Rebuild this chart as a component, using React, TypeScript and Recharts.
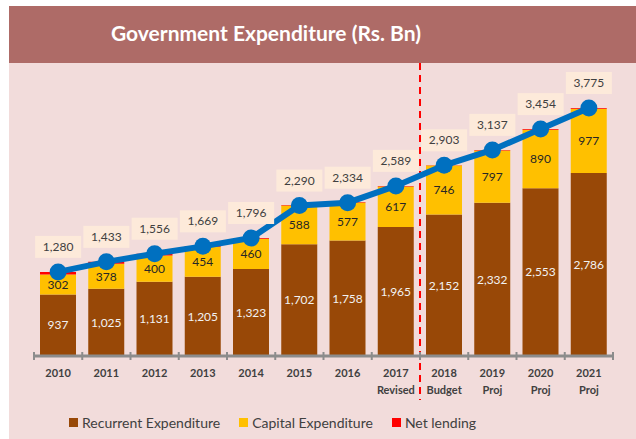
import { ComposedChart, Bar, Line, XAxis, YAxis, LabelList, ReferenceLine } from "recharts";

const years = ["2010", "2011", "2012", "2013", "2014", "2015", "2016", "2017", "2018", "2019", "2020", "2021"];
const subLabels = ["", "", "", "", "", "", "", "Revised", "Budget", "Proj", "Proj", "Proj"];
const recurrent = [937, 1025, 1131, 1205, 1323, 1702, 1758, 1965, 2152, 2332, 2553, 2786];
const capital = [302, 378, 400, 454, 460, 588, 577, 617, 746, 797, 890, 977];
const netLending = [41, 30, 25, 10, 13, 10, 10, 7, 5, 8, 11, 12];
const totals = [1280, 1433, 1556, 1669, 1796, 2290, 2334, 2589, 2903, 3137, 3454, 3775];

const data = years.map((y, i) => ({
  year: y,
  sub: subLabels[i],
  recurrent: recurrent[i],
  capital: capital[i],
  net: netLending[i],
  total: totals[i],
}));

const legendItems = [
  { name: "Recurrent Expenditure", color: "#984807" },
  { name: "Capital Expenditure", color: "#FFC000" },
  { name: "Net lending", color: "#FF0000" },
];

const FONT = "Lato, 'Noto Sans', sans-serif";
const W = 627;
const H = 376;
const X_AXIS_H = 40;
const M = { top: 0, right: 23, left: 25, bottom: 43 };
const halfBand = (W - M.left - M.right) / years.length / 2;

const fmt = (v: number) => v.toLocaleString("en-US");

function YearTick(props: any) {
  const { x, y, payload, index } = props;
  const sub = subLabels[index] || "";
  const hb = payload?.offset || halfBand;
  return (
    <g>
      <line x1={x - hb} x2={x - hb} y1={y - 12} y2={y - 4} stroke="#8C8C8C" strokeWidth={2} />
      {index === years.length - 1 && (
        <line x1={x + hb} x2={x + hb} y1={y - 12} y2={y - 4} stroke="#8C8C8C" strokeWidth={2} />
      )}
      <text x={x} y={y + 13} textAnchor="middle" fontSize={11} fontWeight={700} fill="#404040" fontFamily={FONT}>
        {payload.value}
      </text>
      {sub && (
        <text x={x} y={y + 30} textAnchor="middle" fontSize={11} fontWeight={700} fill="#404040" fontFamily={FONT}>
          {sub}
        </text>
      )}
    </g>
  );
}

function TotalLabel(props: any) {
  const { x, y, value } = props;
  const w = 46;
  const h = 22;
  const cy = y - 25;
  return (
    <g>
      <rect x={x - w / 2} y={cy - h / 2} width={w} height={h} fill="#FDEADA" />
      <text x={x} y={cy + 4} textAnchor="middle" fontSize={12} fill="#404040" fontFamily={FONT}>
        {fmt(value)}
      </text>
    </g>
  );
}

export default function App() {
  return (
    <div
      style={{
        position: "absolute",
        left: 9,
        top: 6,
        width: W,
        height: 433,
        background: "#F2DCDB",
        overflow: "hidden",
        fontFamily: FONT,
      }}
    >
      <div style={{ height: 57, background: "#AE6B67", position: "relative" }}>
        <div
          style={{
            position: "absolute",
            left: 0,
            width: 514,
            top: 0,
            lineHeight: "53px",
            textAlign: "center",
            color: "#FFFFFF",
            fontWeight: 700,
            fontSize: 21,
          }}
        >
          Government Expenditure (Rs. Bn)
        </div>
      </div>
      <ComposedChart width={W} height={H} data={data} margin={M} barSize={36}>
        <XAxis
          dataKey="year"
          interval={0}
          height={X_AXIS_H}
          tickLine={false}
          axisLine={{ stroke: "#8C8C8C", strokeWidth: 3 }}
          tick={<YearTick />}
        />
        <YAxis hide domain={[0, 4460]} />
        <ReferenceLine
          x="2018"
          position="start"
          ifOverflow="visible"
          shape={(p: any) => (
            <line
              x1={p.x1}
              y1={M.top}
              x2={p.x2}
              y2={H - M.bottom - X_AXIS_H + 44}
              stroke="#FF0000"
              strokeWidth={2}
              strokeDasharray="7 5"
            />
          )}
        />
        <Bar dataKey="recurrent" stackId="a" fill="#984807" isAnimationActive={false}>
          <LabelList dataKey="recurrent" position="center" formatter={(v: any) => fmt(v)} fill="#F2F2F2" fontSize={12} fontFamily={FONT} />
        </Bar>
        <Bar dataKey="capital" stackId="a" fill="#FFC000" isAnimationActive={false}>
          <LabelList dataKey="capital" position="center" fill="#262626" fontSize={12} fontFamily={FONT} />
        </Bar>
        <Bar dataKey="net" stackId="a" fill="#FF0000" isAnimationActive={false} />
        <Line
          dataKey="total"
          stroke="#0070C0"
          strokeWidth={6}
          dot={{ r: 8.5, fill: "#0070C0", stroke: "none" }}
          activeDot={false}
          isAnimationActive={false}
        >
          <LabelList dataKey="total" content={<TotalLabel />} />
        </Line>
      </ComposedChart>
      <div
        style={{
          position: "absolute",
          left: 60,
          top: 408,
          display: "flex",
          alignItems: "center",
          fontSize: 14,
          color: "#404040",
        }}
      >
        {legendItems.map((it) => (
          <div key={it.name} style={{ display: "flex", alignItems: "center", marginRight: 19 }}>
            <span style={{ width: 9, height: 9, background: it.color, marginRight: 4, display: "inline-block" }} />
            <span>{it.name}</span>
          </div>
        ))}
      </div>
    </div>
  );
}
